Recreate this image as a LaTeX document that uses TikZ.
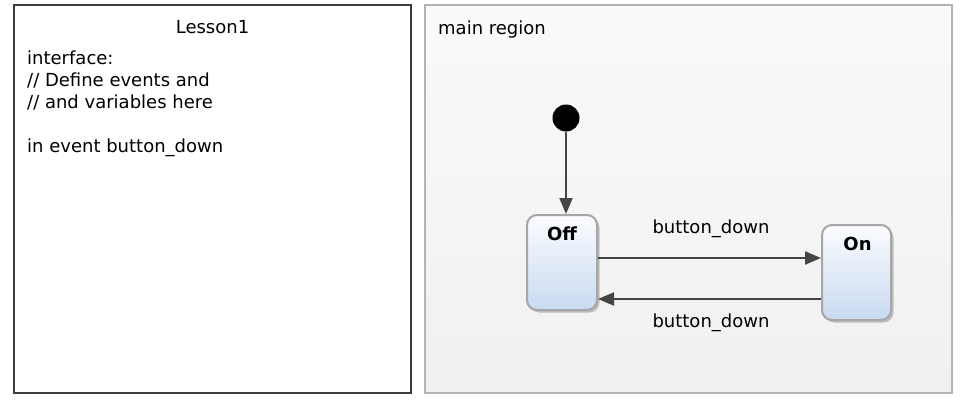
\documentclass[tikz,border=0pt]{standalone}
\usepackage{fontspec}
\setmainfont{DejaVu Sans}
\usetikzlibrary{arrows.meta,shadows}
\definecolor{dark}{HTML}{3C3C3C}
\definecolor{conncol}{HTML}{444444}
\definecolor{regionborder}{HTML}{B4B4B4}
\definecolor{regiontop}{HTML}{FAFAFA}
\definecolor{regionbot}{HTML}{F0F0F0}
\definecolor{statetop}{HTML}{FBFCFF}
\definecolor{statebot}{HTML}{C9DAF1}
\definecolor{stateborder}{HTML}{A6A6A6}
\begin{document}
\begin{tikzpicture}[x=1pt,y=-1pt,
  txt/.style={font=\fontsize{18}{22}\selectfont, inner sep=0pt, text=black},
  boldtxt/.style={font=\fontsize{18}{22}\selectfont\bfseries, inner sep=0pt, text=black},
  panel/.style={draw=dark, line width=2pt, fill=white, minimum width=397pt, minimum height=388pt, inner sep=0pt},
  region/.style={draw=regionborder, line width=2pt, shading=axis, top color=regiontop, bottom color=regionbot, minimum width=527pt, minimum height=388pt, inner sep=0pt},
  state/.style={draw=stateborder, line width=2pt, rounded corners=10pt, shading=axis, top color=statetop, bottom color=statebot, inner sep=0pt,
    drop shadow={shadow xshift=2.5pt, shadow yshift=-2.5pt, fill=black, opacity=0.22}},
  initial/.style={circle, fill=black, minimum size=27pt, inner sep=0pt},
  conn/.style={draw=conncol, line width=2pt, -{Triangle[length=16pt,width=13pt]}}
]
\useasboundingbox (0,0) rectangle (964,404);
\fill[white] (0,0) rectangle (964,404);

% left panel
\node[panel] (lesson) at (212.5,199) {};
\node[txt, anchor=base] (title) at (212.5,34) {Lesson1};
\node[txt, anchor=base west] (l1) at (27,64) {interface:};
\node[txt, anchor=base west] (l2) at (27,86) {// Define events and};
\node[txt, anchor=base west] (l3) at (27,108) {// and variables here};
\node[txt, anchor=base west] (l4) at (27,152) {in event button\_down};

% right region
\node[region] (main) at (688.5,199) {};
\node[txt, anchor=base west] (mainlbl) at (438,35) {main region};

% states
\node[initial] (init) at (566,118) {};
\node[state, minimum width=70pt, minimum height=95pt] (off) at (562,262.5) {};
\node[boldtxt, anchor=base] (offlbl) at (562,240) {Off};
\node[state, minimum width=69pt, minimum height=95pt] (on) at (856.5,272.5) {};
\node[boldtxt, anchor=base] (onlbl) at (857.5,250) {On};

% connectors
\coordinate (ytop) at (0,258);
\coordinate (ybot) at (0,299);
\draw[conn] (init) -- (init |- off.north);
\draw[conn] (off.east |- ytop) -- (on.west |- ytop);
\draw[conn] (on.west |- ybot) -- (off.east |- ybot);
\node[txt, anchor=base] (lbltop) at (711,233) {button\_down};
\node[txt, anchor=base] (lblbot) at (711,327) {button\_down};
\end{tikzpicture}
\end{document}
